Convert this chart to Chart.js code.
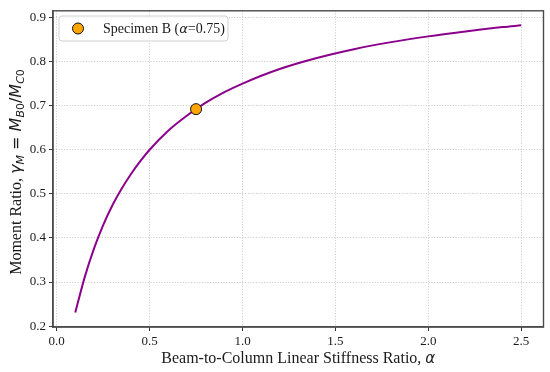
<!DOCTYPE html>
<html>
<head>
<meta charset="utf-8">
<script src="https://cdn.jsdelivr.net/npm/chart.js@4.4.1/dist/chart.umd.min.js"></script>
<style>
  html, body { margin: 0; padding: 0; background: #fff; }
  #wrap { width: 550px; height: 372px; }
</style>
</head>
<body>
<div id="wrap"><canvas id="chart" width="550" height="372"></canvas></div>
<script>
'use strict';

// curve: stiffness ratio alpha vs moment ratio
const alphaValues = [0.1, 0.15, 0.2, 0.25, 0.3, 0.35, 0.4, 0.45, 0.5, 0.6, 0.7, 0.8, 0.9, 1.0, 1.2, 1.4, 1.6, 1.8, 2.0, 2.2, 2.4, 2.5];
const gammaValues = [0.231, 0.310, 0.375, 0.429, 0.474, 0.512, 0.545, 0.574, 0.600, 0.643, 0.677, 0.706, 0.730, 0.750, 0.783, 0.808, 0.828, 0.844, 0.857, 0.868, 0.878, 0.882];

// specimen marker
const specimenAlpha = [0.75];
const specimenGamma = [0.692];

const xTicks = [0.0, 0.5, 1.0, 1.5, 2.0, 2.5];
const yTicks = [0.2, 0.3, 0.4, 0.5, 0.6, 0.7, 0.8, 0.9];

const SERIF = '"Liberation Serif", "Times New Roman", serif';
const MATH = '"DejaVu Sans", sans-serif';
const INK = '#1a1a1a';

const curve = alphaValues.map((a, i) => ({ x: a, y: gammaValues[i] }));
const specimen = specimenAlpha.map((a, i) => ({ x: a, y: specimenGamma[i] }));

// draws a row of text pieces with different fonts, centred on (0, 0)
function drawRuns(ctx, runs) {
  let total = 0;
  runs.forEach(r => { ctx.font = r.font; r.w = ctx.measureText(r.text).width; total += r.w; });
  let x = -total / 2;
  runs.forEach(r => {
    ctx.font = r.font;
    ctx.fillText(r.text, x, r.dy || 0);
    x += r.w;
  });
}

const decorations = {
  id: 'decorations',
  afterDraw(chart) {
    const ctx = chart.ctx;
    const area = chart.chartArea;
    ctx.save();

    // frame around the plot
    ctx.strokeStyle = '#4a4a4a';
    ctx.lineWidth = 1.4;
    ctx.strokeRect(area.left, area.top, area.right - area.left, area.bottom - area.top);

    ctx.fillStyle = INK;
    ctx.textBaseline = 'alphabetic';
    ctx.textAlign = 'left';

    // x axis title
    ctx.save();
    ctx.translate((area.left + area.right) / 2, 363);
    drawRuns(ctx, [
      { text: 'Beam-to-Column Linear Stiffness Ratio, ', font: '16px ' + SERIF },
      { text: '\u03b1', font: 'italic 15px ' + MATH }
    ]);
    ctx.restore();

    // y axis title
    ctx.save();
    ctx.translate(21, 172);
    ctx.rotate(-Math.PI / 2);
    drawRuns(ctx, [
      { text: 'Moment Ratio, ', font: '16px ' + SERIF },
      { text: '\u03b3', font: 'italic 16px ' + MATH },
      { text: 'M', font: 'italic 11px ' + MATH, dy: 3 },
      { text: ' = ', font: '16px ' + MATH },
      { text: 'M', font: 'italic 16px ' + MATH },
      { text: 'B', font: 'italic 11px ' + MATH, dy: 3 },
      { text: '0', font: '11px ' + MATH, dy: 3 },
      { text: '/', font: '16px ' + MATH },
      { text: 'M', font: 'italic 16px ' + MATH },
      { text: 'C', font: 'italic 11px ' + MATH, dy: 3 },
      { text: '0', font: '11px ' + MATH, dy: 3 }
    ]);
    ctx.restore();

    // legend box
    const bx = 59, by = 16, bw = 169, bh = 25;
    ctx.beginPath();
    ctx.roundRect(bx, by, bw, bh, 3);
    ctx.fillStyle = 'rgba(255,255,255,0.8)';
    ctx.fill();
    ctx.strokeStyle = '#d0d0d0';
    ctx.lineWidth = 1;
    ctx.stroke();

    ctx.beginPath();
    ctx.arc(78, 28.5, 5.5, 0, Math.PI * 2);
    ctx.fillStyle = '#FFA500';
    ctx.fill();
    ctx.strokeStyle = '#111';
    ctx.stroke();

    ctx.fillStyle = INK;
    ctx.save();
    ctx.translate(0, 33);
    let x = 103;
    [
      { text: 'Specimen B (', font: '14px ' + SERIF },
      { text: '\u03b1', font: 'italic 13px ' + MATH },
      { text: '=0.75)', font: '14px ' + SERIF }
    ].forEach(r => {
      ctx.font = r.font;
      ctx.fillText(r.text, x, 0);
      x += ctx.measureText(r.text).width;
    });
    ctx.restore();

    ctx.restore();
  }
};

const gridStyle = {
  color: 'rgba(150,150,150,0.6)',
  lineWidth: 0.9,
  tickColor: '#333',
  tickLength: 4,
  tickWidth: 1,
  tickBorderDash: []
};

new Chart(document.getElementById('chart'), {
  type: 'scatter',
  data: {
    datasets: [
      {
        label: 'Specimen B',
        data: specimen,
        order: 0,
        pointRadius: 5.5,
        pointHoverRadius: 5.5,
        backgroundColor: '#FFA500',
        borderColor: '#111',
        borderWidth: 1
      },
      {
        label: 'curve',
        type: 'line',
        data: curve,
        order: 1,
        borderColor: '#8B008B',
        borderWidth: 2,
        pointRadius: 0,
        fill: false,
        cubicInterpolationMode: 'monotone'
      }
    ]
  },
  options: {
    responsive: false,
    animation: false,
    layout: { padding: { top: 10, right: 6, left: 0, bottom: 0 } },
    plugins: {
      legend: { display: false },
      tooltip: { enabled: false }
    },
    scales: {
      x: {
        type: 'linear',
        min: -0.02,
        max: 2.62,
        afterBuildTicks: scale => { scale.ticks = xTicks.map(v => ({ value: v })); },
        afterFit: scale => { scale.height = 45; },
        grid: gridStyle,
        border: { display: true, color: '#4a4a4a', width: 1.4, dash: [1, 1.7] },
        ticks: {
          padding: 3,
          color: INK,
          font: { family: SERIF, size: 13 },
          maxRotation: 0,
          callback: v => v.toFixed(1)
        }
      },
      y: {
        type: 'linear',
        min: 0.198,
        max: 0.915,
        afterBuildTicks: scale => { scale.ticks = yTicks.map(v => ({ value: v })); },
        afterFit: scale => { scale.width = 53; },
        grid: gridStyle,
        border: { display: true, color: '#4a4a4a', width: 1.4, dash: [1, 1.7] },
        ticks: {
          padding: 3,
          color: INK,
          font: { family: SERIF, size: 13 },
          callback: v => v.toFixed(1)
        }
      }
    }
  },
  plugins: [decorations]
});
</script>
</body>
</html>
